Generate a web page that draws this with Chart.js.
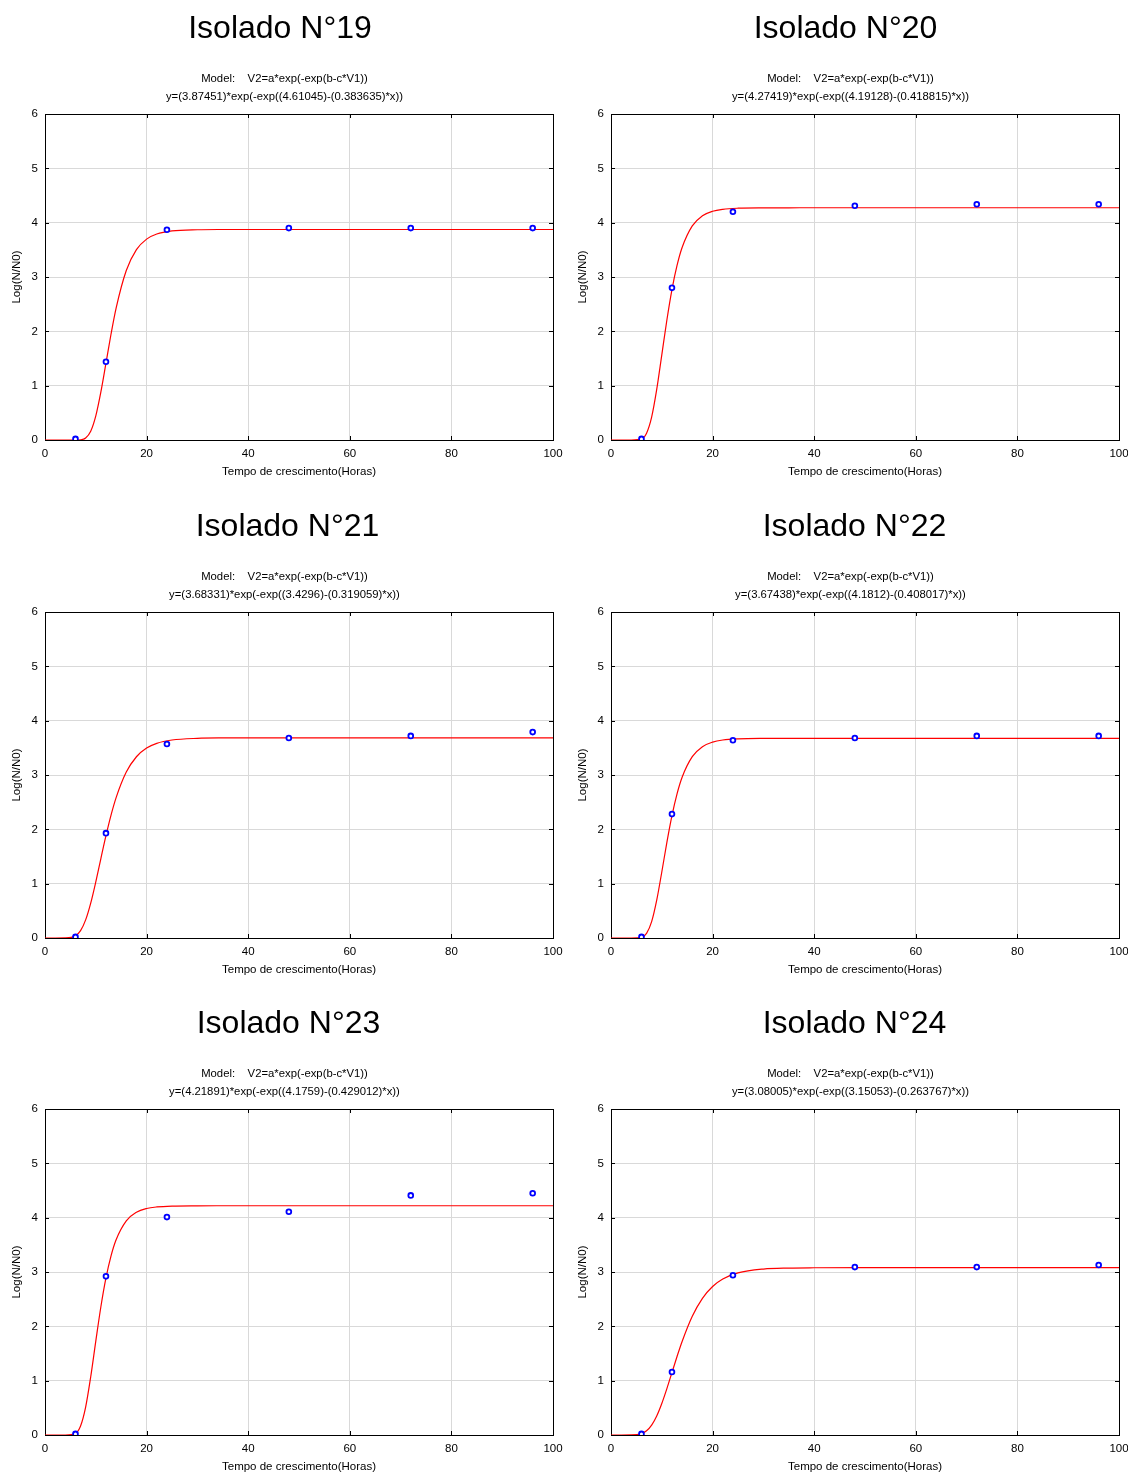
<!DOCTYPE html>
<html>
<head>
<meta charset="utf-8">
<script src="https://cdn.jsdelivr.net/npm/chart.js@4/dist/chart.umd.min.js"></script>
<style>
  html, body { margin: 0; padding: 0; background: #fff; overflow: hidden; }
  .panel { position: absolute; }
</style>
</head>
<body>
<script>
// ---- Data ----
const titles = ['Isolado N°19', 'Isolado N°20', 'Isolado N°21', 'Isolado N°22', 'Isolado N°23', 'Isolado N°24'];
const modelLine = 'Model:    V2=a*exp(-exp(b-c*V1))';
const equations = [
  'y=(3.87451)*exp(-exp((4.61045)-(0.383635)*x))',
  'y=(4.27419)*exp(-exp((4.19128)-(0.418815)*x))',
  'y=(3.68331)*exp(-exp((3.4296)-(0.319059)*x))',
  'y=(3.67438)*exp(-exp((4.1812)-(0.408017)*x))',
  'y=(4.21891)*exp(-exp((4.1759)-(0.429012)*x))',
  'y=(3.08005)*exp(-exp((3.15053)-(0.263767)*x))'
];
const xTitle = 'Tempo de crescimento(Horas)';
const yTitle = 'Log(N/N0)';

// observed points (hours, log N/N0)
const sampleHours = [6, 12, 24, 48, 72, 96];
const obs19 = [0.02, 1.44, 3.87, 3.90, 3.90, 3.90];
const obs20 = [0.02, 2.80, 4.20, 4.31, 4.34, 4.34];
const obs21 = [0.02, 1.93, 3.57, 3.68, 3.72, 3.79];
const obs22 = [0.02, 2.28, 3.64, 3.68, 3.72, 3.72];
const obs23 = [0.02, 2.92, 4.01, 4.11, 4.41, 4.45];
const obs24 = [0.02, 1.16, 2.94, 3.09, 3.09, 3.13];

// fitted curves, read at these hours
const curveHours = [0, 2, 4, 6, 7, 8, 9, 10, 11, 12, 13, 14, 16, 18, 20, 22, 25, 30, 35, 40, 50, 70, 100];
const fit19 = [0, 0, 0, 0.0002, 0.004, 0.036, 0.161, 0.443, 0.884, 1.415, 1.951, 2.428, 3.119, 3.503, 3.697, 3.791, 3.848, 3.870, 3.874, 3.8745, 3.8745, 3.8745, 3.8745];
const fit20 = [0, 0, 0, 0.020, 0.126, 0.421, 0.930, 1.567, 2.209, 2.769, 3.212, 3.542, 3.940, 4.126, 4.210, 4.246, 4.266, 4.273, 4.274, 4.2742, 4.2742, 4.2742, 4.2742];
const fit21 = [0, 0, 0.0007, 0.039, 0.135, 0.333, 0.642, 1.034, 1.463, 1.883, 2.262, 2.584, 3.054, 3.336, 3.496, 3.583, 3.644, 3.675, 3.682, 3.683, 3.6833, 3.6833, 3.6833];
const fit22 = [0, 0, 0, 0.013, 0.085, 0.301, 0.696, 1.215, 1.761, 2.253, 2.654, 2.960, 3.339, 3.522, 3.606, 3.644, 3.665, 3.673, 3.674, 3.6744, 3.6744, 3.6744, 3.6744];
const fit23 = [0, 0, 0, 0.030, 0.167, 0.515, 1.072, 1.729, 2.360, 2.890, 3.298, 3.594, 3.942, 4.099, 4.168, 4.197, 4.213, 4.218, 4.219, 4.2189, 4.2189, 4.2189, 4.2189];
const fit24 = [0, 0, 0.0009, 0.025, 0.077, 0.182, 0.350, 0.580, 0.854, 1.150, 1.445, 1.722, 2.186, 2.516, 2.733, 2.871, 2.983, 3.054, 3.073, 3.078, 3.0798, 3.080, 3.080];

const xTickValues = [0, 20, 40, 60, 80, 100];
const yTickValues = [0, 1, 2, 3, 4, 5, 6];

const observed = [obs19, obs20, obs21, obs22, obs23, obs24];
const fitted = [fit19, fit20, fit21, fit22, fit23, fit24];

// ---- Layout ----
const FONT = "'Liberation Sans', Arial, Helvetica, sans-serif";
const rowTops = [0, 498, 995];
const cols = [{left: 0, width: 564, padRight: 11}, {left: 566, width: 562, padRight: 9}];
const titleShift = [3.5, 3, 11, 12, 12, 12];
const subtitleShift = 8;
const CANVAS_H = 480;

const framePlugin = {
  id: 'frame',
  beforeDatasetsDraw(chart) {
    const {ctx, chartArea: a, scales} = chart;
    ctx.save();
    ctx.strokeStyle = '#000';
    ctx.lineWidth = 1;
    ctx.strokeRect(Math.round(a.left) + 0.5, Math.round(a.top) + 0.5,
                   Math.round(a.right - a.left), Math.round(a.bottom - a.top));
    ctx.beginPath();
    scales.x.ticks.forEach(t => {
      const px = Math.round(scales.x.getPixelForValue(t.value)) + 0.5;
      ctx.moveTo(px, a.top); ctx.lineTo(px, a.top + 4);
      ctx.moveTo(px, a.bottom); ctx.lineTo(px, a.bottom - 4);
    });
    scales.y.ticks.forEach(t => {
      const py = Math.round(scales.y.getPixelForValue(t.value)) + 0.5;
      ctx.moveTo(a.left, py); ctx.lineTo(a.left + 4, py);
      ctx.moveTo(a.right, py); ctx.lineTo(a.right - 4, py);
    });
    ctx.stroke();
    ctx.restore();
  }
};

const shiftTitlesPlugin = {
  id: 'shiftTitles',
  afterLayout(chart, args, opts) {
    chart.boxes.forEach(b => {
      if (!b.options || b.options.text === undefined || b.options.position !== 'top') return;
      const dx = Array.isArray(b.options.text) ? opts.sub : opts.main;
      b.left += dx; b.right += dx;
    });
  }
};

titles.forEach((title, i) => {
  const row = Math.floor(i / 2), col = cols[i % 2];
  const div = document.createElement('div');
  div.className = 'panel';
  div.style.left = col.left + 'px';
  div.style.top = rowTops[row] + 'px';
  div.style.width = col.width + 'px';
  div.style.height = CANVAS_H + 'px';
  const canvas = document.createElement('canvas');
  canvas.width = col.width;
  canvas.height = CANVAS_H;
  canvas.style.width = col.width + 'px';
  canvas.style.height = CANVAS_H + 'px';
  div.appendChild(canvas);
  document.body.appendChild(div);

  const tickFont = {family: FONT, size: 11.5};
  new Chart(canvas.getContext('2d'), {
    type: 'scatter',
    data: {
      datasets: [
        {
          label: 'fit',
          data: curveHours.map((h, k) => ({x: h, y: fitted[i][k]})),
          showLine: true,
          borderColor: '#ff0000',
          borderWidth: 1.2,
          pointRadius: 0,
          cubicInterpolationMode: 'monotone',
          order: 2
        },
        {
          label: 'obs',
          data: sampleHours.map((h, k) => ({x: h, y: observed[i][k]})),
          showLine: false,
          pointStyle: 'circle',
          pointRadius: 2.4,
          borderWidth: 1.8,
          borderColor: '#0000ff',
          backgroundColor: '#ffffff',
          order: 1
        }
      ]
    },
    options: {
      responsive: false,
      animation: false,
      devicePixelRatio: 1,
      layout: {padding: {left: 0, right: col.padRight, top: 0, bottom: 0}},
      plugins: {
        legend: {display: false},
        tooltip: {enabled: false},
        shiftTitles: {main: titleShift[i], sub: subtitleShift},
        title: {
          display: true, text: title, color: '#000',
          font: {family: FONT, size: 32, weight: 'normal', lineHeight: 1.2},
          padding: {top: 10, bottom: 0}
        },
        subtitle: {
          display: true, text: [modelLine, equations[i]], color: '#000',
          font: {family: FONT, size: 11.3, weight: 'normal', lineHeight: 1.6},
          padding: {top: 21.6, bottom: 7.84}
        }
      },
      scales: {
        x: {
          type: 'linear', min: 0, max: 100,
          afterBuildTicks: s => { s.ticks = xTickValues.map(v => ({value: v})); },
          ticks: {font: tickFont, color: '#000', padding: 7, maxRotation: 0},
          grid: {color: '#d9d9d9', drawTicks: false},
          border: {color: '#000'},
          title: {display: true, text: xTitle, color: '#000', font: tickFont, padding: {top: 0, bottom: 1}},
          afterFit: s => { s.height = 40; s.paddingLeft = 0; s.paddingRight = 0; }
        },
        y: {
          type: 'linear', min: 0, max: 6,
          afterBuildTicks: s => { s.ticks = yTickValues.map(v => ({value: v})); },
          ticks: {font: tickFont, color: '#000', padding: 7},
          grid: {color: '#d9d9d9', drawTicks: false},
          border: {color: '#000'},
          title: {display: true, text: yTitle, color: '#000', font: tickFont, padding: {top: 10, bottom: 0}},
          afterFit: s => { s.width = 45; s.paddingTop = 0; s.paddingBottom = 0; }
        }
      }
    },
    plugins: [framePlugin, shiftTitlesPlugin]
  });
});
</script>
</body>
</html>
